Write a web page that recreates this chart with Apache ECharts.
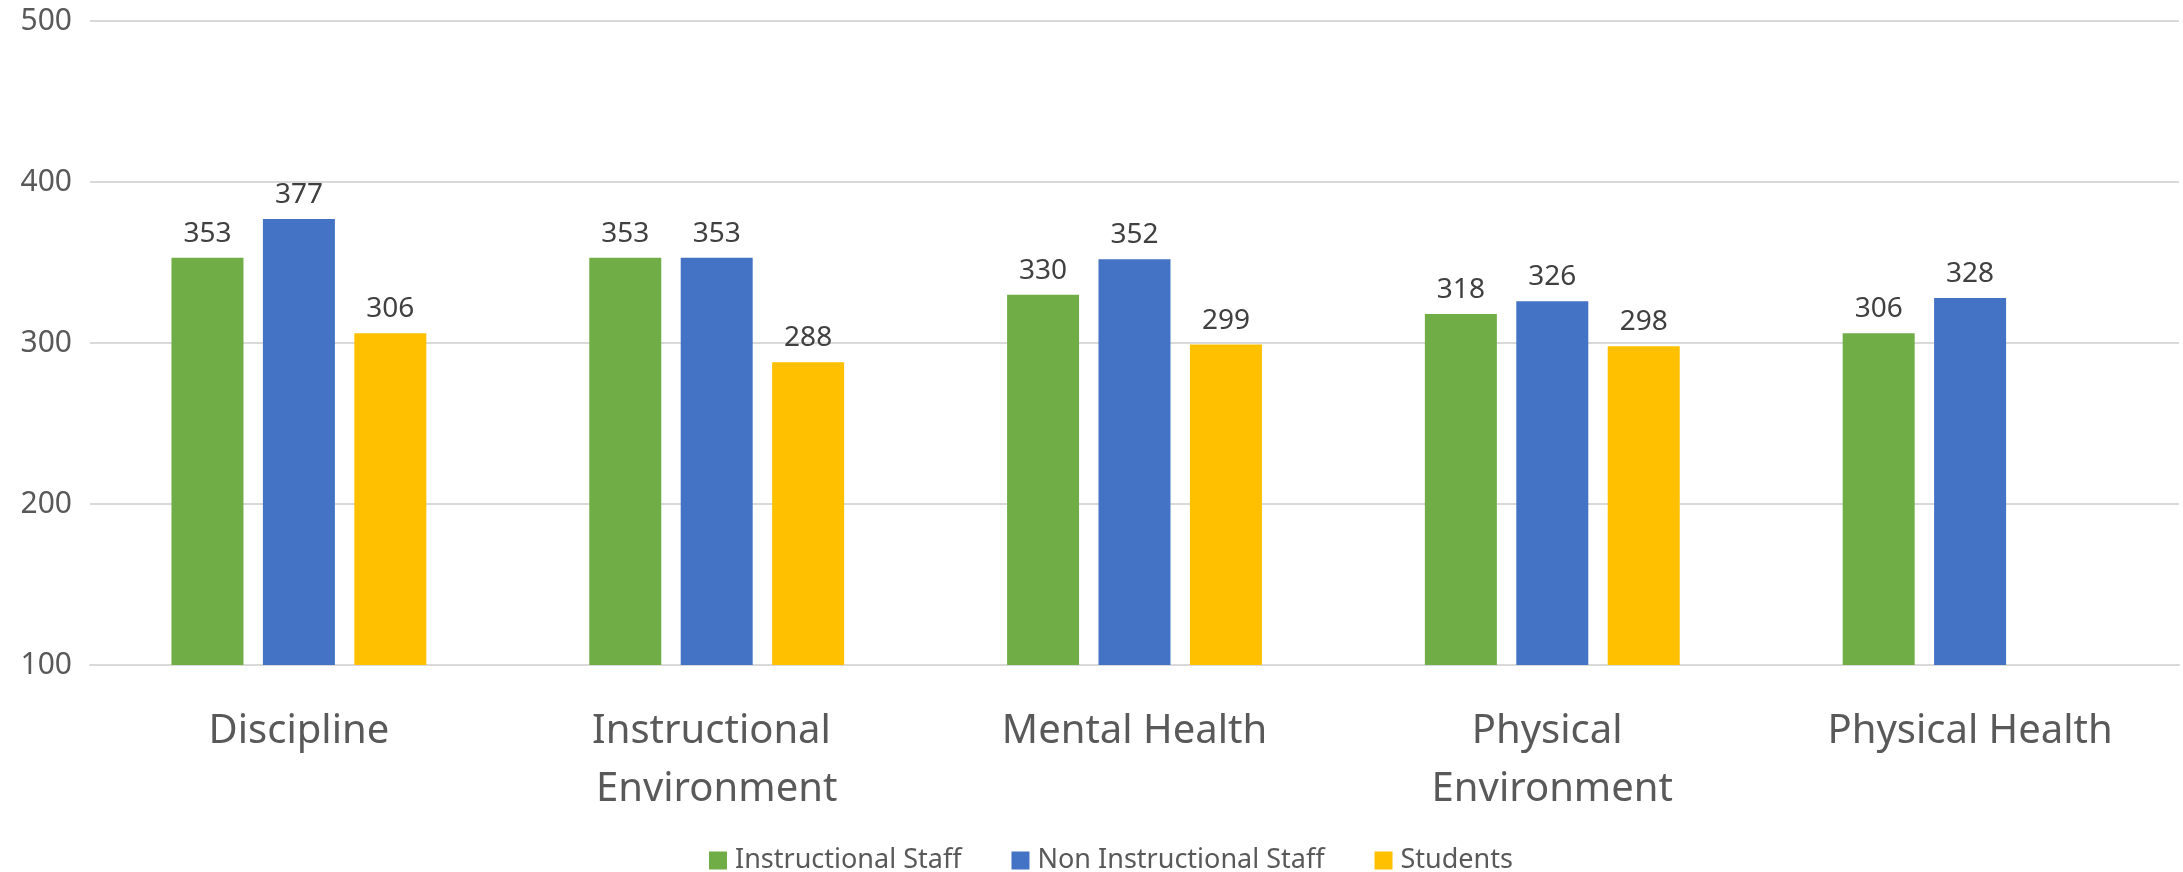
<!DOCTYPE html>
<html>
<head>
<meta charset="utf-8">
<script src="https://cdn.jsdelivr.net/npm/echarts@6/dist/echarts.min.js"></script>
<style>html,body{margin:0;padding:0;background:#fff}#c{width:2183px;height:872px}</style>
</head>
<body>
<div id="c"></div>
<script>
const categories = ["Discipline", "Instructional Environment", "Mental Health", "Physical Environment", "Physical Health"];
const instructionalStaff = [353, 353, 330, 318, 306];
const nonInstructionalStaff = [377, 353, 352, 326, 328];
const students = [306, 288, 299, 298, null];
const yTicks = [100, 200, 300, 400, 500];

const FONT = "'Noto Sans', 'Open Sans', sans-serif";
const chart = echarts.init(document.getElementById('c'));
const labelCfg = {show: true, position: 'top', distance: 10, color: '#404040', fontSize: 28, fontFamily: FONT};
function bar(name, data, color) {
  return {name, type: 'bar', data, itemStyle: {color}, label: labelCfg, barGap: '27%', barCategoryGap: '39%'};
}
chart.setOption({
  animation: false,
  textStyle: {fontFamily: FONT},
  grid: {left: 90, right: 4, top: 21, bottom: 207, containLabel: false},
  legend: {
    top: 842, left: 704, itemWidth: 18, itemHeight: 18, itemGap: 50, icon: 'rect',
    textStyle: {color: '#595959', fontSize: 27, fontFamily: FONT, padding: [0, 0, 0, 3]}
  },
  xAxis: {
    type: 'category', data: categories,
    axisLine: {lineStyle: {color: '#D9D9D9', width: 2}},
    axisTick: {show: false},
    axisLabel: {color: '#595959', fontSize: 40, margin: 38, lineHeight: 58, width: 400, overflow: 'break', interval: 0, fontFamily: FONT}
  },
  yAxis: {
    type: 'value', min: yTicks[0], max: yTicks[yTicks.length - 1], interval: 100,
    axisLine: {show: false}, axisTick: {show: false},
    axisLabel: {color: '#595959', fontSize: 30, margin: 18, fontFamily: FONT},
    splitLine: {lineStyle: {color: '#D9D9D9', width: 2}}
  },
  series: [
    bar('Instructional Staff', instructionalStaff, '#70AD47'),
    bar('Non Instructional Staff', nonInstructionalStaff, '#4472C4'),
    bar('Students', students, '#FFC000')
  ]
});
</script>
</body>
</html>
